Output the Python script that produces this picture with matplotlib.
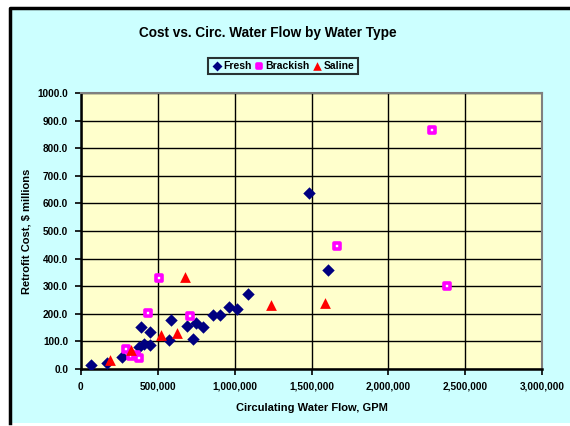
import matplotlib
matplotlib.use('Agg')
import matplotlib.pyplot as plt
from matplotlib.patches import Rectangle
from matplotlib.lines import Line2D
from matplotlib.ticker import FuncFormatter, MultipleLocator

plt.rcParams['font.family'] = ['Liberation Sans', 'DejaVu Sans']
plt.rcParams['font.weight'] = 'bold'

# flow in GPM, cost in $ millions
fresh_flow = [67000, 169000, 266000, 381000, 414000, 450000, 392000, 449000,
              571000, 586000, 692000, 731000, 751000, 793000, 857000, 906000,
              961000, 1019000, 1088000, 1484000, 1607000]
fresh_cost = [14, 21, 44, 81, 89, 88, 153, 133,
              105, 177, 156, 109, 166, 153, 197, 197,
              226, 216, 270, 639, 359]

brackish_flow = [292000, 330000, 360000, 381000, 438000, 509000, 711000,
                 1664000, 2284000, 2380000]
brackish_cost = [72, 46, 52, 39, 204, 331, 193, 446, 866, 301]

saline_flow = [188000, 327000, 520000, 624000, 678000, 1236000, 1585000]
saline_cost = [34, 70, 123, 131, 333, 232, 238]

W, H = 570, 426
fig = plt.figure(figsize=(W / 100, H / 100), dpi=100, facecolor='white')

# outer chart area: cyan with black edge on left and top, white strip at bottom
fig.patches.append(Rectangle((10 / W, 3 / H), 1, 1 - 11 / H, transform=fig.transFigure,
                             facecolor='#CCFFFF', edgecolor='none', zorder=-5))
fig.lines.append(Line2D([9.5 / W, 9.5 / W, 1], [3 / H, 1 - 8 / H, 1 - 8 / H],
                        transform=fig.transFigure, color='black', lw=2.5, zorder=-4))

ax = fig.add_axes([80.7 / W, 1 - 369 / H, 461.6 / W, 276 / H])
ax.set_facecolor('#FFFFCC')

ax.scatter(fresh_flow, fresh_cost, marker='D', s=40, color='#000080',
           linewidths=0, label='Fresh', zorder=3)
ax.scatter(brackish_flow, brackish_cost, marker='s', s=18, facecolor='white',
           edgecolor='#FF00FF', linewidths=2.6, label='Brackish', zorder=3)
ax.scatter(saline_flow, saline_cost, marker='^', s=60, color='#FF0000',
           linewidths=0, label='Saline', zorder=3)

ax.set_xlim(0, 3000000)
ax.set_ylim(0, 1000)
ax.xaxis.set_major_locator(MultipleLocator(500000))
ax.yaxis.set_major_locator(MultipleLocator(100))
ax.xaxis.set_major_formatter(FuncFormatter(lambda v, p: f'{int(v):,}'))
ax.yaxis.set_major_formatter(FuncFormatter(lambda v, p: f'{v:.1f}'))
ax.grid(True, color='black', lw=1.0)
ax.set_axisbelow(True)

for side in ['top', 'right']:
    ax.spines[side].set_color('#808080')
    ax.spines[side].set_linewidth(1.5)
for side in ['left', 'bottom']:
    ax.spines[side].set_color('black')
    ax.spines[side].set_linewidth(1.8)

ax.tick_params(direction='out', length=4, width=1.2, labelsize=7.2, pad=5)
for lab in ax.get_xticklabels() + ax.get_yticklabels():
    lab.set_fontweight('bold')

ax.set_xlabel('Circulating Water Flow, GPM', fontsize=8, fontweight='bold', labelpad=8)
ax.set_ylabel('Retrofit Cost, $ millions', fontsize=8, fontweight='bold', labelpad=4)

fig.text(268 / W, 1 - 33 / H, 'Cost vs. Circ. Water Flow by Water Type',
         ha='center', va='center', fontsize=9.8, fontweight='bold')

leg = fig.legend(loc='center', bbox_to_anchor=(283 / W, 1 - 66 / H), ncol=3,
                 frameon=True, fancybox=False, edgecolor='black',
                 prop={'size': 7.5, 'weight': 'bold'}, handletextpad=0.1,
                 columnspacing=0.25, borderpad=0.3, handlelength=1.0,
                 borderaxespad=0, markerscale=0.8)
leg.get_frame().set_linewidth(1.5)
leg.get_frame().set_facecolor('#CCFFFF')

fig.savefig('out.png', dpi=100)
